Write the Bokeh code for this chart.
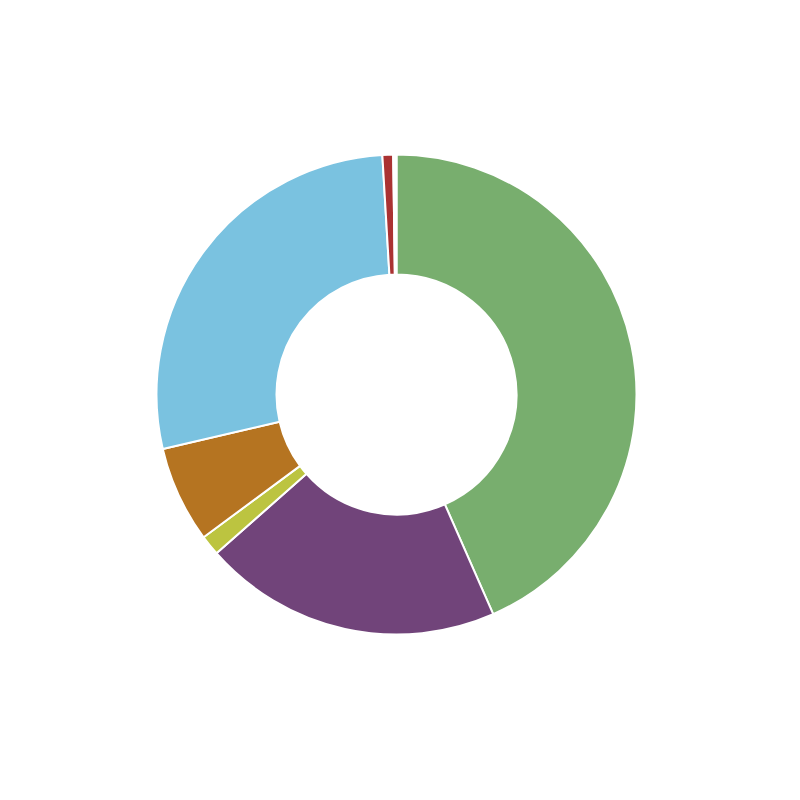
import numpy as np
from bokeh.plotting import figure
from bokeh.models import Range1d, ColumnDataSource
from bokeh.embed import file_html
from bokeh.resources import INLINE

categories = ["A", "B", "C", "D", "E", "F", "G"]
values = [43.4, 20.1, 1.36, 6.5, 27.7, 0.72, 0.22]
colors = ["#78AE6E", "#71447A", "#BCC440", "#B57421", "#7AC2E0", "#AA3232", "#FFFFFF"]

W = H = 784
p = figure(width=W, height=H, output_backend="svg", toolbar_location=None,
           x_range=Range1d(0, W), y_range=Range1d(0, H), min_border=0,
           outline_line_color=None, background_fill_color="white")
p.axis.visible = False
p.grid.visible = False

vals = np.array(values, dtype=float)
frac = vals / vals.sum()
cum_after = np.cumsum(frac)
cum_before = cum_after - frac
start = np.pi / 2 - 2 * np.pi * cum_after
end = np.pi / 2 - 2 * np.pi * cum_before

src = ColumnDataSource(dict(cat=categories, start=start, end=end, color=colors))
cx, cy = 396, H - 394
p.annular_wedge(x=cx, y=cy, inner_radius=120, outer_radius=240,
                start_angle="start", end_angle="end", fill_color="color",
                line_color="white", line_width=2, source=src)

open("out.html", "w").write(file_html(p, INLINE))
